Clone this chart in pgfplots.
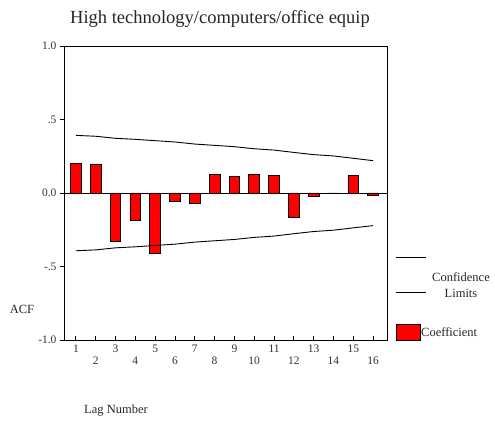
\documentclass[border=0pt]{standalone}
\usepackage{pgfplots}
\pgfplotsset{compat=1.18}
\usepackage{fontspec}
\setmainfont{Liberation Serif}
\begin{document}
\begin{tikzpicture}[x=1pt,y=1pt]
\path[use as bounding box] (0,0) rectangle (495,425);
\begin{axis}[
  at={(64pt,85pt)}, anchor=south west,
  scale only axis, width=323pt, height=294pt,
  xmin=0.4, xmax=16.7, ymin=-1, ymax=1,
  axis line style={black, line width=0.9pt},
  ytick={-1,-0.5,0,0.5,1},
  yticklabels={-1.0,-.5,0.0,.5,1.0},
  xtick={1,...,16},
  xticklabels={1,\raisebox{-20pt}{2},3,\raisebox{-20pt}{4},5,\raisebox{-20pt}{6},7,\raisebox{-20pt}{8},9,\raisebox{-20pt}{10},11,\raisebox{-20pt}{12},13,\raisebox{-20pt}{14},15,\raisebox{-20pt}{16}},
  xtick pos=bottom, ytick pos=left,
  ytick align=outside, xtick align=inside,
  major tick length=4pt,
  tick style={black, line width=0.8pt},
  /pgf/number format/assume math mode=true,
  tick label style={font=\fontsize{11.5}{12}\selectfont, text=black!80},
  xticklabel style={yshift=-1pt},
]
\addplot[ybar, bar width=10.7pt, fill=red, draw=black, line width=0.9pt] coordinates {
(1,0.204) (2,0.195) (3,-0.333) (4,-0.184) (5,-0.410) (6,-0.057) (7,-0.073) (8,0.125)
(9,0.111) (10,0.125) (11,0.117) (12,-0.168) (13,-0.025) (14,-0.005) (15,0.117) (16,-0.016)};
\addplot[black, line width=0.9pt, sharp plot, mark=none] coordinates {
(1,0.392) (2,0.386) (3,0.372) (4,0.365) (5,0.356) (6,0.347) (7,0.333) (8,0.324)
(9,0.315) (10,0.301) (11,0.292) (12,0.276) (13,0.261) (14,0.252) (15,0.236) (16,0.220)};
\addplot[black, line width=0.9pt, sharp plot, mark=none] coordinates {
(1,-0.393) (2,-0.387) (3,-0.373) (4,-0.366) (5,-0.357) (6,-0.348) (7,-0.334) (8,-0.325)
(9,-0.316) (10,-0.302) (11,-0.293) (12,-0.277) (13,-0.262) (14,-0.253) (15,-0.237) (16,-0.222)};
\addplot[black, line width=0.9pt, mark=none] coordinates {(0.4,0) (16.7,0)};
\end{axis}
\node[font=\fontsize{18.5}{20}\selectfont, text=black!85] at (220,406) {High technology/computers/office equip};
\node[font=\fontsize{12.5}{14}\selectfont, text=black!85] at (22,116) {ACF};
\node[font=\fontsize{12.5}{14}\selectfont, text=black!85] at (116,14) {Lag Number};
\draw[black, line width=0.9pt] (396,168) -- (426,168);
\draw[black, line width=0.9pt] (396,133) -- (426,133);
\node[font=\fontsize{12.5}{14}\selectfont, text=black!85] at (461,148) {Confidence};
\node[font=\fontsize{12.5}{14}\selectfont, text=black!85] at (461,132) {Limits};
\draw[fill=red, draw=black, line width=0.9pt] (396,85) rectangle (420,101);
\node[font=\fontsize{12.5}{14}\selectfont, text=black!85, anchor=west, inner sep=1pt] at (420,93) {Coefficient};
\end{tikzpicture}
\end{document}
